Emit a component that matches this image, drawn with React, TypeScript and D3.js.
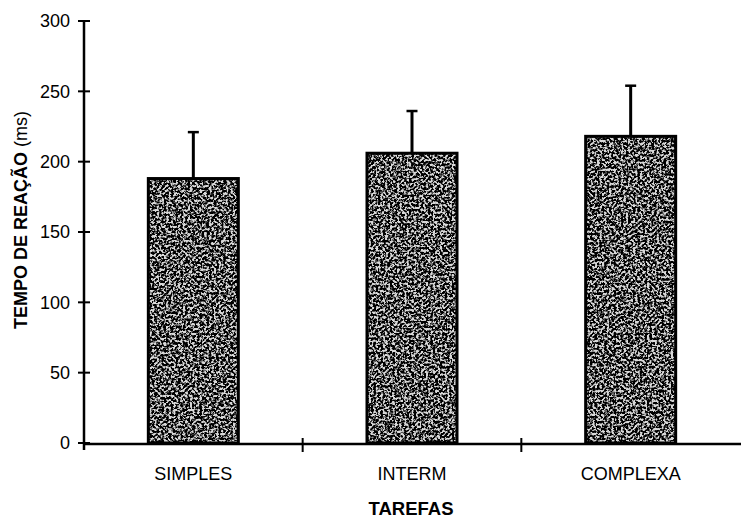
import React from 'react';
import * as d3 from 'd3';

// data
const categories = ['SIMPLES', 'INTERM', 'COMPLEXA'];
const means = [188, 206, 218];
const errors = [33, 30, 36];
const yTicks = [0, 50, 100, 150, 200, 250, 300];

const W = 741;
const H = 520;

const App = () => {
  const x = d3.scaleBand<string>().domain(categories).range([84, 740]).paddingInner(0).paddingOuter(0);
  const y = d3.scaleLinear().domain([0, 300]).range([443, 21]);
  const barW = 90;
  const font = "'Liberation Sans', Arial, Helvetica, sans-serif";

  return (
    <svg width={W} height={H} style={{ position: 'absolute', left: 0, top: 0, background: '#fff' }}>
      <defs>
        <filter id="grain" x="0" y="0" width="1" height="1" filterUnits="objectBoundingBox">
          <feTurbulence type="fractalNoise" baseFrequency="0.42" numOctaves="4" seed="11" result="n" />
          <feColorMatrix
            in="n"
            type="matrix"
            values="0 0 0 0 0  0 0 0 0 0  0 0 0 0 0  5.5 0 0 0 -2.1"
          />
        </filter>
      </defs>

      {/* bars */}
      {categories.map((c, i) => {
        const cx = (x(c) as number) + x.bandwidth() / 2;
        const top = y(means[i]);
        const bottom = y(0);
        const capY = y(means[i] + errors[i]);
        return (
          <g key={c}>
            <line x1={cx} x2={cx} y1={top} y2={capY} stroke="#000" strokeWidth={3} />
            <line x1={cx - 5.5} x2={cx + 5.5} y1={capY} y2={capY} stroke="#000" strokeWidth={2.5} />
            <rect x={cx - barW / 2} y={top} width={barW} height={bottom - top} fill="#d8d8d8" />
            <rect x={cx - barW / 2} y={top} width={barW} height={bottom - top} fill="#000" filter="url(#grain)" />
            <rect x={cx - barW / 2} y={top} width={barW} height={bottom - top} fill="none" stroke="#000" strokeWidth={3} />
          </g>
        );
      })}

      {/* y axis */}
      <line x1={84} x2={84} y1={y(300)} y2={450} stroke="#000" strokeWidth={2.5} />
      {yTicks.map(t => (
        <g key={t}>
          <line x1={78} x2={90} y1={y(t)} y2={y(t)} stroke="#000" strokeWidth={2} />
          <text x={70} y={y(t)} dy="0.35em" textAnchor="end" fontFamily={font} fontSize={18} fill="#000">
            {t}
          </text>
        </g>
      ))}

      {/* x axis */}
      <line x1={83} x2={741} y1={y(0) + 1} y2={y(0) + 1} stroke="#000" strokeWidth={2.5} />
      {categories.slice(1).map(c => (
        <line key={c} x1={x(c) as number} x2={x(c) as number} y1={y(0) - 5} y2={y(0) + 9} stroke="#000" strokeWidth={2} />
      ))}
      {categories.map(c => (
        <text key={c} x={(x(c) as number) + x.bandwidth() / 2} y={480} textAnchor="middle" fontFamily={font} fontSize={18} fill="#000">
          {c}
        </text>
      ))}

      <text x={411} y={515} textAnchor="middle" fontFamily={font} fontSize={18.5} fontWeight="bold" fill="#000">
        TAREFAS
      </text>
      <text
        transform={`translate(27, 220) rotate(-90)`}
        textAnchor="middle"
        fontFamily={font}
        fontSize={18}
        fill="#000"
      >
        <tspan fontWeight="bold">TEMPO DE REAÇÃO </tspan>
        <tspan>(ms)</tspan>
      </text>
    </svg>
  );
};

export default App;
